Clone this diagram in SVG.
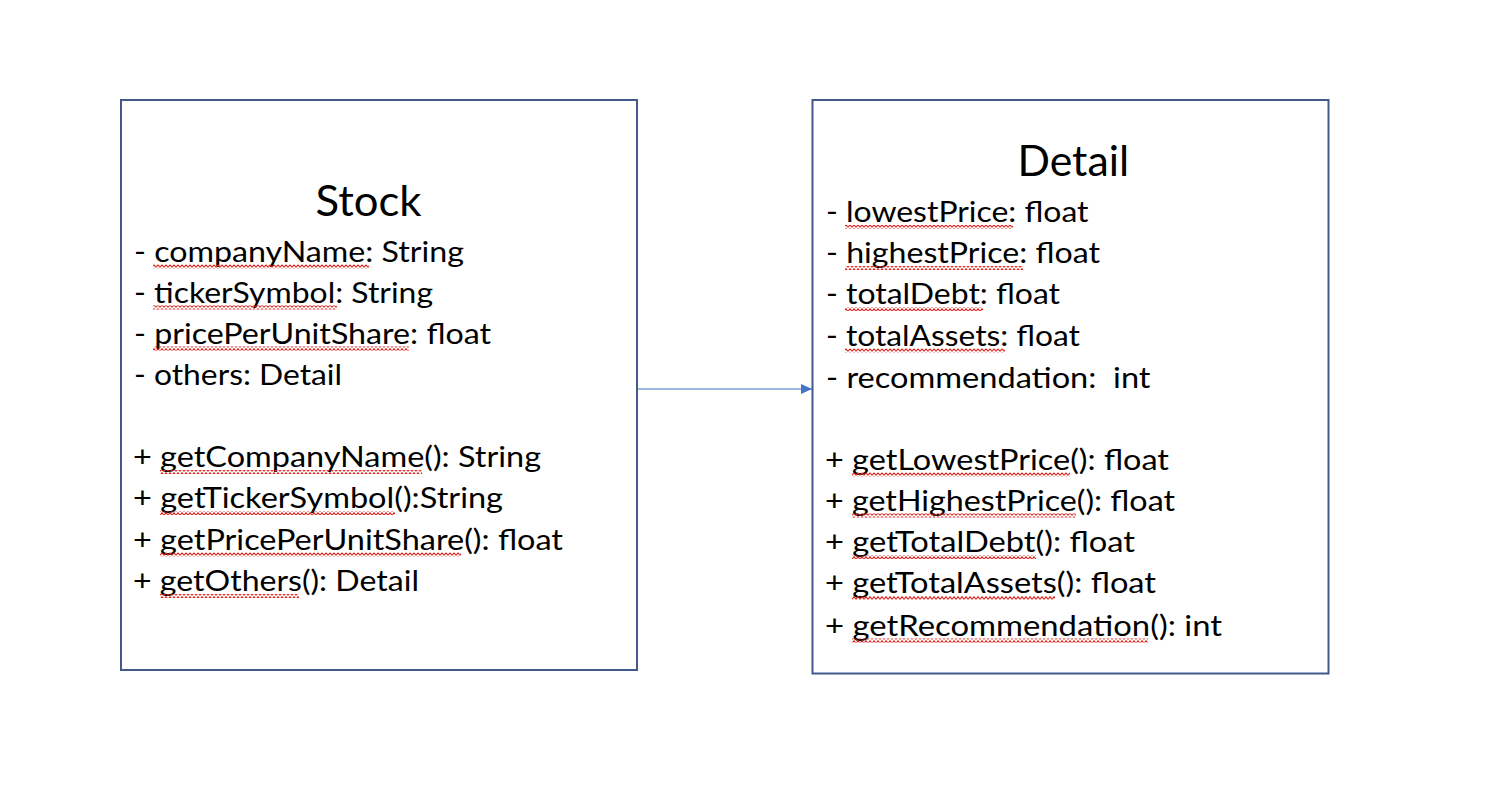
<svg xmlns="http://www.w3.org/2000/svg" width="1502" height="810" viewBox="0 0 1502 810">
<defs>
<style>
.box{fill:#ffffff;stroke:#42598A;stroke-width:2}
.t{font-family:Lato,"Liberation Sans",sans-serif;font-size:29.5px;fill:#000000}
.h{font-family:Lato,"Liberation Sans",sans-serif;font-size:42px;fill:#000000}
.sq{fill:url(#squig)}
.conn{stroke:#4472C4;stroke-width:1.2;fill:none}
</style>
<pattern id="squig" x="0" y="0" width="4" height="4" patternUnits="userSpaceOnUse">
<path d="M0,3.3 L2,0.7 L4,3.3" fill="none" stroke="#E0241C" stroke-width="1.1"/>
</pattern>
<marker id="arr" markerWidth="11" markerHeight="11" refX="11" refY="5.5" orient="auto" markerUnits="userSpaceOnUse">
<path d="M0,0.5 L11,5.5 L0,10.5 Z" fill="#4472C4"/>
</marker>
</defs>
<rect width="1502" height="810" fill="#ffffff"/>
<g id="connectors">
<line class="conn" x1="637" y1="389" x2="812" y2="389" marker-end="url(#arr)"/>
</g>
<g id="stock">
<rect class="box" x="121" y="100" width="516" height="570"/>
<text class="h" x="315.5" y="216" textLength="106" lengthAdjust="spacingAndGlyphs">Stock</text>
<text class="t" x="134" y="261.5" textLength="330" lengthAdjust="spacingAndGlyphs">- companyName: String</text>
<text class="t" x="134" y="302.5" textLength="299" lengthAdjust="spacingAndGlyphs">- tickerSymbol: String</text>
<text class="t" x="134" y="343.5" textLength="357" lengthAdjust="spacingAndGlyphs">- pricePerUnitShare: float</text>
<text class="t" x="134" y="384.5" textLength="208" lengthAdjust="spacingAndGlyphs">- others: Detail</text>
<text class="t" x="133" y="467" textLength="408" lengthAdjust="spacingAndGlyphs">+ getCompanyName(): String</text>
<text class="t" x="133" y="508" textLength="370" lengthAdjust="spacingAndGlyphs">+ getTickerSymbol():String</text>
<text class="t" x="133" y="549.5" textLength="430" lengthAdjust="spacingAndGlyphs">+ getPricePerUnitShare(): float</text>
<text class="t" x="133" y="591" textLength="286" lengthAdjust="spacingAndGlyphs">+ getOthers(): Detail</text>
<rect class="sq" x="153" y="264.5" width="216" height="4"/>
<rect class="sq" x="153" y="305.5" width="184" height="4"/>
<rect class="sq" x="153" y="346.5" width="256" height="4"/>
<rect class="sq" x="160" y="470" width="262" height="4"/>
<rect class="sq" x="160" y="511" width="235" height="4"/>
<rect class="sq" x="160" y="552.5" width="301" height="4"/>
<rect class="sq" x="160" y="594" width="139" height="4"/>
</g>
<g id="detail">
<rect class="box" x="812.5" y="100" width="516" height="573.5"/>
<text class="h" x="1017.5" y="176" textLength="111.5" lengthAdjust="spacingAndGlyphs">Detail</text>
<text class="t" x="826" y="222" textLength="262.5" lengthAdjust="spacingAndGlyphs">- lowestPrice: float</text>
<text class="t" x="826" y="263" textLength="274" lengthAdjust="spacingAndGlyphs">- highestPrice: float</text>
<text class="t" x="826" y="304" textLength="234" lengthAdjust="spacingAndGlyphs">- totalDebt: float</text>
<text class="t" x="826" y="345.5" textLength="254" lengthAdjust="spacingAndGlyphs">- totalAssets: float</text>
<text class="t" x="826" y="388" textLength="324.5" lengthAdjust="spacingAndGlyphs" xml:space="preserve">- recommendation:  int</text>
<text class="t" x="825" y="469.5" textLength="344" lengthAdjust="spacingAndGlyphs">+ getLowestPrice(): float</text>
<text class="t" x="825" y="510.5" textLength="350" lengthAdjust="spacingAndGlyphs">+ getHighestPrice(): float</text>
<text class="t" x="825" y="552" textLength="310" lengthAdjust="spacingAndGlyphs">+ getTotalDebt(): float</text>
<text class="t" x="825" y="593" textLength="331" lengthAdjust="spacingAndGlyphs">+ getTotalAssets(): float</text>
<text class="t" x="825" y="635.5" textLength="397" lengthAdjust="spacingAndGlyphs">+ getRecommendation(): int</text>
<rect class="sq" x="845" y="225" width="168" height="4"/>
<rect class="sq" x="845" y="266" width="178" height="4"/>
<rect class="sq" x="845" y="307" width="138" height="4"/>
<rect class="sq" x="845" y="348.5" width="160" height="4"/>
<rect class="sq" x="852" y="472.5" width="218" height="4"/>
<rect class="sq" x="852" y="513.5" width="224" height="4"/>
<rect class="sq" x="852" y="555" width="184" height="4"/>
<rect class="sq" x="852" y="596" width="203" height="4"/>
<rect class="sq" x="852" y="638.5" width="296" height="4"/>
</g>
</svg>
